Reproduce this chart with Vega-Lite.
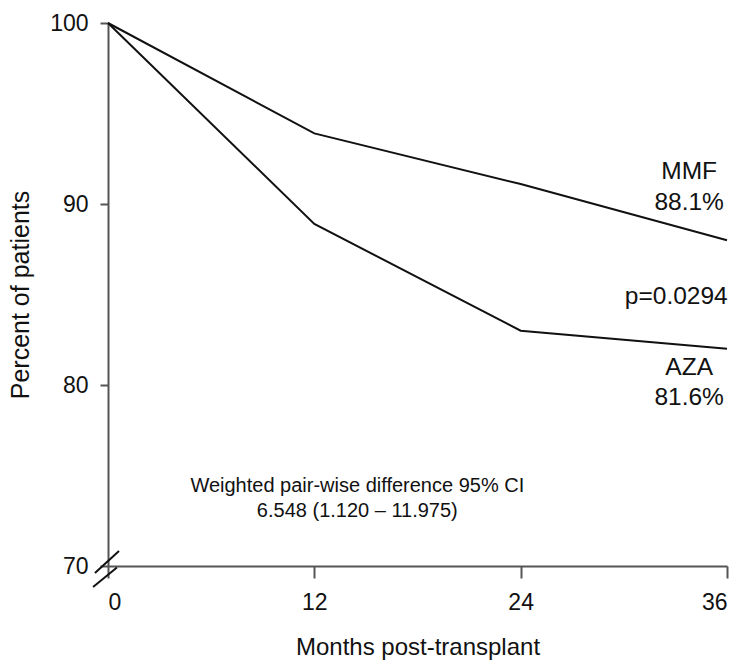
{
  "$schema": "https://vega.github.io/schema/vega-lite/v6.json",
  "width": 619,
  "height": 543,
  "autosize": "none",
  "padding": {"left": 108, "top": 23, "right": 16, "bottom": 97},
  "background": "white",
  "config": {
    "view": {"stroke": null},
    "font": "Liberation Sans",
    "text": {"font": "Liberation Sans", "color": "#111"}
  },
  "datasets": {
    "curves": [
      {"month": 0, "pct": 100, "group": "MMF"},
      {"month": 12, "pct": 93.9, "group": "MMF"},
      {"month": 24, "pct": 91.1, "group": "MMF"},
      {"month": 36, "pct": 88.0, "group": "MMF"},
      {"month": 0, "pct": 100, "group": "AZA"},
      {"month": 12, "pct": 88.9, "group": "AZA"},
      {"month": 24, "pct": 83.0, "group": "AZA"},
      {"month": 36, "pct": 82.0, "group": "AZA"}
    ],
    "breaks": [
      {"x1": -0.76, "y1": 69.61, "x2": 0.64, "y2": 70.83},
      {"x1": -0.87, "y1": 68.84, "x2": 0.52, "y2": 69.92}
    ],
    "labels": [
      {"month": 33.8, "pct": 91.75, "label": "MMF"},
      {"month": 33.8, "pct": 90.05, "label": "88.1%"},
      {"month": 33.8, "pct": 80.95, "label": "AZA"},
      {"month": 33.8, "pct": 79.3, "label": "81.6%"},
      {"month": 33.05, "pct": 84.85, "label": "p=0.0294"}
    ],
    "notes": [
      {"month": 14.5, "pct": 74.4, "label": "Weighted pair-wise difference 95% CI"},
      {"month": 14.5, "pct": 73.05, "label": "6.548 (1.120 \u2013 11.975)"}
    ]
  },
  "layer": [
    {
      "data": {"name": "curves"},
      "mark": {"type": "line", "color": "#111", "strokeWidth": 2, "clip": false},
      "encoding": {
        "x": {
          "field": "month", "type": "quantitative",
          "scale": {"domain": [0, 36], "nice": false, "zero": false},
          "axis": {
            "values": [0, 12, 24, 36], "title": "Months post-transplant",
            "grid": false, "domainColor": "#555", "domainWidth": 2,
            "tickColor": "#555", "tickWidth": 2, "tickSize": 12,
            "labelFontSize": 23, "labelColor": "#111", "labelPadding": 13,
            "labelFont": "Liberation Sans",
            "titleFontSize": 24, "titleFontWeight": "normal", "titleColor": "#111",
            "titlePadding": 21, "titleFont": "Liberation Sans"
          }
        },
        "y": {
          "field": "pct", "type": "quantitative",
          "scale": {"domain": [70, 100], "nice": false, "zero": false},
          "axis": {
            "values": [70, 80, 90, 100], "title": "Percent of patients",
            "grid": false, "domainColor": "#555", "domainWidth": 2,
            "tickColor": "#555", "tickWidth": 2, "tickSize": 8,
            "labelFontSize": 23, "labelColor": "#111", "labelPadding": 12,
            "labelFont": "Liberation Sans",
            "titleFontSize": 25, "titleFontWeight": "normal", "titleColor": "#111",
            "titlePadding": 16, "titleFont": "Liberation Sans"
          }
        },
        "detail": {"field": "group"}
      }
    },
    {
      "data": {"name": "breaks"},
      "mark": {"type": "rule", "color": "#111", "strokeWidth": 2, "clip": false},
      "encoding": {
        "x": {"field": "x1", "type": "quantitative"},
        "y": {"field": "y1", "type": "quantitative"},
        "x2": {"field": "x2"},
        "y2": {"field": "y2"}
      }
    },
    {
      "data": {"name": "labels"},
      "mark": {"type": "text", "fontSize": 24.5, "align": "center", "baseline": "middle", "color": "#111"},
      "encoding": {
        "x": {"field": "month", "type": "quantitative"},
        "y": {"field": "pct", "type": "quantitative"},
        "text": {"field": "label"}
      }
    },
    {
      "data": {"name": "notes"},
      "mark": {"type": "text", "fontSize": 20, "align": "center", "baseline": "middle", "color": "#111"},
      "encoding": {
        "x": {"field": "month", "type": "quantitative"},
        "y": {"field": "pct", "type": "quantitative"},
        "text": {"field": "label"}
      }
    }
  ]
}
